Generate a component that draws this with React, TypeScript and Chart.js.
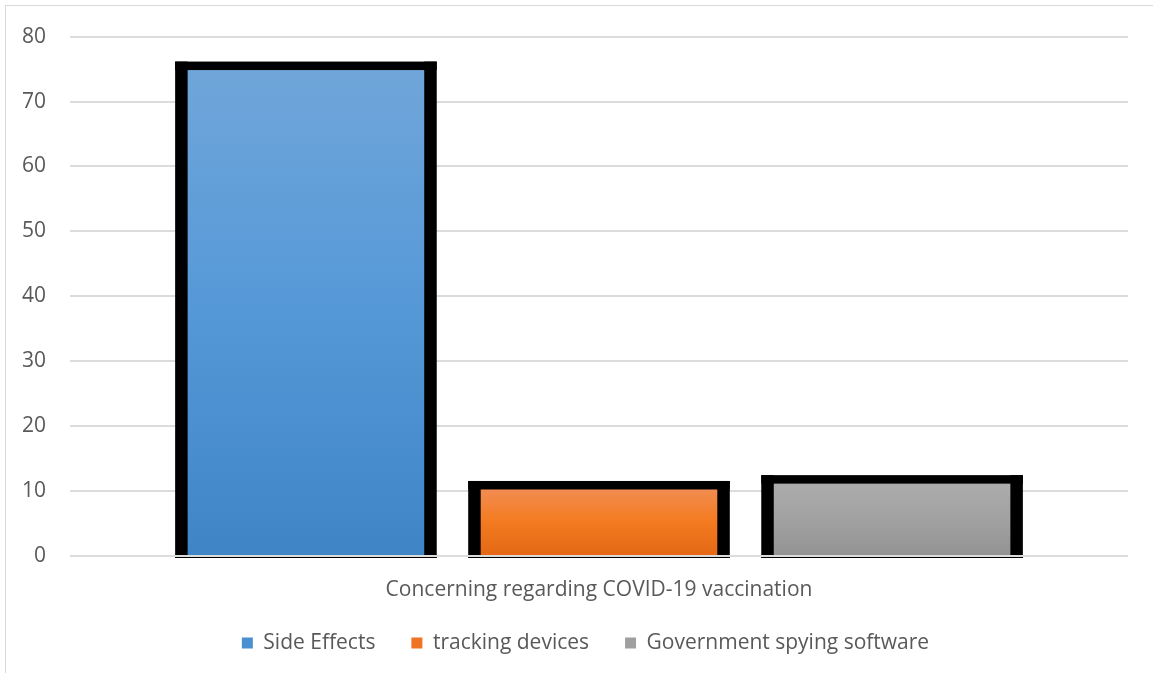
import React, { useEffect, useRef } from "react";
import { Chart, registerables } from "chart.js";

Chart.register(...registerables);

const categories = ["Concerning regarding COVID-19 vaccination"];
const seriesNames = ["Side Effects", "tracking devices", "Government spying software"];
const sideEffects = [75.5];
const trackingDevices = [10.9];
const spyingSoftware = [11.8];
const yTicks = [0, 10, 20, 30, 40, 50, 60, 70, 80];

// gradient stops (top, middle, bottom) and legend swatch colour per series
const gradients = [
  ["#70a6d9", "#5598d8", "#3f85c6"],
  ["#f28f58", "#f47b21", "#e46815"],
  ["#adadad", "#a2a2a2", "#939393"],
];
const swatches = ["#4a8fd2", "#ee7424", "#9f9f9f"];

const FONT = "'Open Sans', Lato, 'Liberation Sans', sans-serif";
const FONT_SIZE = 21;
const TEXT = "#595959";
const GRID = "#dcdcdc";
const LEGEND_PAD = 36;

function barGradient(idx: number) {
  return (ctx: any) => {
    const chart = ctx.chart;
    const y = chart.scales?.y;
    const stops = gradients[idx];
    if (!y || ctx.raw == null) return stops[1];
    const top = y.getPixelForValue(ctx.raw);
    const bottom = y.getPixelForValue(0);
    const g = chart.ctx.createLinearGradient(0, top, 0, bottom);
    g.addColorStop(0, stops[0]);
    g.addColorStop(0.5, stops[1]);
    g.addColorStop(1, stops[2]);
    return g;
  };
}

// heavy black outline centred on each bar edge, then the zero line on top
const outlinePlugin = {
  id: "barOutline",
  afterDatasetsDraw(chart: any) {
    const { ctx, chartArea } = chart;
    const sideW = 12.5;
    const topW = 8.5;
    ctx.save();
    ctx.fillStyle = "#000";
    chart.data.datasets.forEach((_: any, di: number) => {
      const meta = chart.getDatasetMeta(di);
      meta.data.forEach((bar: any) => {
        const { x, y, base, width } = bar.getProps(["x", "y", "base", "width"], true);
        const l = x - width / 2;
        const r = x + width / 2;
        const bottom = base + 3;
        ctx.fillRect(l - sideW / 2, y - topW / 2, sideW, bottom - (y - topW / 2));
        ctx.fillRect(r - sideW / 2, y - topW / 2, sideW, bottom - (y - topW / 2));
        ctx.fillRect(l - sideW / 2, y - topW / 2, width + sideW, topW);
        ctx.fillRect(l - sideW / 2, base, width + sideW, 3);
      });
    });
    const y0 = chart.scales.y.getPixelForValue(0);
    ctx.strokeStyle = GRID;
    ctx.lineWidth = 2;
    ctx.beginPath();
    ctx.moveTo(chartArea.left, y0);
    ctx.lineTo(chartArea.right, y0);
    ctx.stroke();
    ctx.restore();
  },
};

// place the legend row under the axis title, centred on the whole frame
const legendPlacement = {
  id: "legendPlacement",
  afterLayout(chart: any) {
    const lg = chart.legend;
    if (!lg) return;
    const dx = 21.5;
    lg.left += dx;
    lg.right += dx;
    const top = 643 - LEGEND_PAD - FONT_SIZE / 2;
    const h = lg.bottom - lg.top;
    lg.top = top;
    lg.bottom = top + h;
  },
};

export default function App() {
  const canvasRef = useRef<HTMLCanvasElement | null>(null);

  useEffect(() => {
    if (!canvasRef.current) return;
    const series = [sideEffects, trackingDevices, spyingSoftware];
    const chart = new Chart(canvasRef.current, {
      type: "bar",
      data: {
        labels: categories,
        datasets: series.map((values, i) => ({
          label: seriesNames[i],
          data: values,
          backgroundColor: barGradient(i),
          borderWidth: 0,
          categoryPercentage: 0.831,
          barPercentage: 0.85,
        })),
      },
      options: {
        responsive: false,
        animation: false,
        layout: { padding: { left: 0, right: 25, top: 36, bottom: -1 } },
        scales: {
          x: {
            grid: { display: false },
            border: { display: false },
            afterFit: (scale: any) => {
              scale.height = 51;
            },
            ticks: { color: TEXT, font: { family: FONT, size: FONT_SIZE }, padding: 13 },
          },
          y: {
            min: 0,
            max: 80,
            afterBuildTicks: (scale: any) => {
              scale.ticks = yTicks.map((v) => ({ value: v }));
            },
            afterFit: (scale: any) => {
              scale.width = 70;
            },
            grid: { color: GRID, lineWidth: 2, drawTicks: false },
            border: { display: false },
            ticks: { color: TEXT, font: { family: FONT, size: FONT_SIZE }, padding: 24 },
          },
        },
        plugins: {
          tooltip: { enabled: false },
          legend: {
            position: "bottom",
            labels: {
              color: TEXT,
              font: { family: FONT, size: FONT_SIZE },
              boxWidth: 11,
              boxHeight: 11,
              padding: LEGEND_PAD,
              generateLabels: () =>
                seriesNames.map((name, i) => ({
                  text: name,
                  fillStyle: swatches[i],
                  strokeStyle: swatches[i],
                  lineWidth: 0,
                  fontColor: TEXT,
                  datasetIndex: i,
                  hidden: false,
                })),
            },
          },
        },
      },
      plugins: [outlinePlugin, legendPlacement],
    });
    return () => chart.destroy();
  }, []);

  return (
    <div style={{ position: "absolute", left: 0, top: 0, width: 1153, height: 673, overflow: "hidden", background: "#fff" }}>
      <div style={{ position: "absolute", left: 5, top: 5, width: 1300, height: 800, border: "1.5px solid #d9d9d9" }} />
      <canvas ref={canvasRef} width={1153} height={673} style={{ position: "absolute", left: 0, top: 0, width: 1153, height: 673 }} />
    </div>
  );
}
